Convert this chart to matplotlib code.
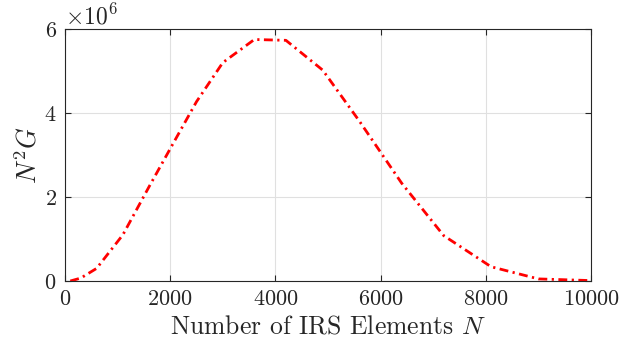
import numpy as np
import matplotlib
matplotlib.use('Agg')
import matplotlib.pyplot as plt

# number of IRS elements and the resulting N^2 G
n_elements = [100, 300, 600, 1100, 1600, 2000, 2500, 3000, 3600, 4200, 4900,
              5600, 6400, 7200, 8100, 9000, 10000]
n2g = [0.0e6, 0.07e6, 0.30e6, 1.10e6, 2.25e6, 3.15e6, 4.27e6, 5.20e6, 5.75e6, 5.73e6,
       5.02e6, 3.80e6, 2.33e6, 1.08e6, 0.34e6, 0.05e6, 0.01e6]

plt.rcParams['font.family'] = ['cmr10']
plt.rcParams['mathtext.fontset'] = 'cm'
plt.rcParams['axes.formatter.use_mathtext'] = True
plt.rcParams['axes.unicode_minus'] = False

fig = plt.figure(figsize=(6.21, 3.51), dpi=100)
ax = fig.add_axes([0.1047, 0.1994, 0.847, 0.718])

ax.plot(n_elements, n2g, color='red', linestyle=(0, (3.2, 1.6, 0.8, 1.6)), linewidth=2)

ax.set_xlim(0, 10000)
ax.set_ylim(0, 6e6)
ax.set_xticks([0, 2000, 4000, 6000, 8000, 10000])
ax.set_yticks([0, 2e6, 4e6, 6e6])
ax.ticklabel_format(axis='y', style='sci', scilimits=(6, 6))
ax.yaxis.get_offset_text().set_fontsize(17)

ax.grid(True, color='#e0e0e0', linewidth=0.8)
ax.set_axisbelow(True)
for s in ax.spines.values():
    s.set_color('#262626')
    s.set_linewidth(0.8)
ax.tick_params(direction='in', top=True, right=True, length=4, width=0.8,
               colors='#262626', labelsize=16, pad=6)

ax.set_xlabel('Number of IRS Elements $N$', fontsize=18.5, color='#262626', labelpad=4)
ax.set_ylabel('$N^2G$', fontsize=19, color='#262626', labelpad=2)

fig.savefig('out.png', dpi=100)
